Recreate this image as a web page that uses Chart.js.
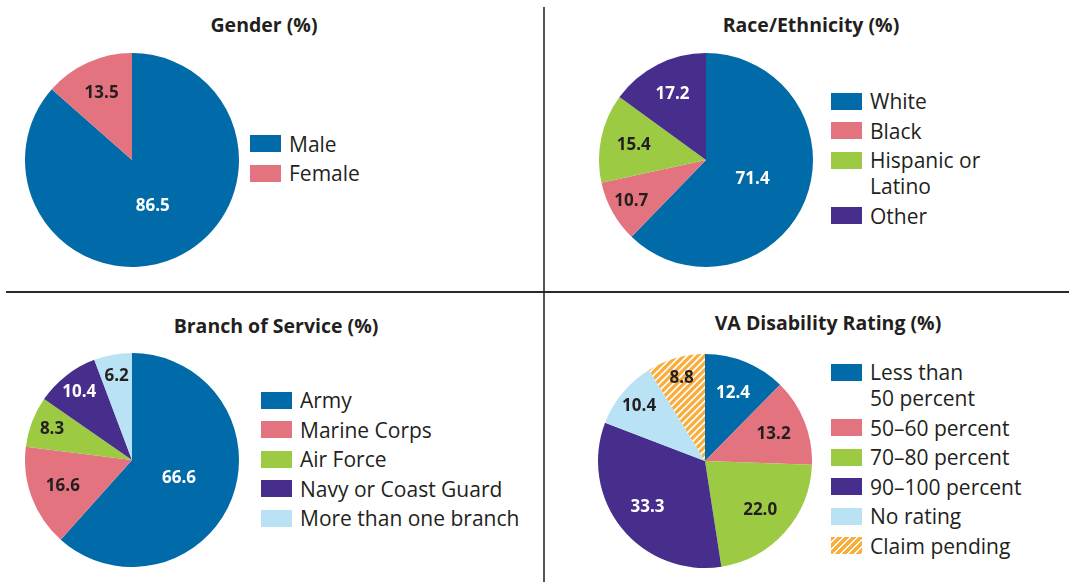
<!DOCTYPE html>
<html>
<head>
<meta charset="utf-8">
<script src="https://cdn.jsdelivr.net/npm/chart.js@4"></script>
<style>
  body { margin: 0; background: #fff; font-family: "Open Sans", sans-serif; color: #231f20; }
  #wrap { position: relative; width: 1069px; height: 582px; overflow: hidden; }
  .title { position: absolute; font-weight: bold; font-size: 19.5px; transform: translateX(-50%); white-space: nowrap; }
  canvas { position: absolute; }
  .legend { position: absolute; font-size: 21px; }
  .row { display: flex; align-items: flex-start; line-height: 26px; margin-bottom: 3.5px; white-space: pre-line; }
  .sw { width: 31px; height: 17px; margin-top: 4.5px; margin-right: 8px; flex: none; }
  .vline { position: absolute; left: 543px; top: 7px; width: 2px; height: 580px; background: #555; }
  .hline { position: absolute; left: 6px; top: 291px; width: 1063px; height: 2px; background: #2a2a2a; }
</style>
</head>
<body>
<div id="wrap">
  <div class="vline"></div>
  <div class="hline"></div>
</div>
<script>
// ----- data -----
const genderLabels = ["Male", "Female"];
const genderValues = [86.5, 13.5];

const raceLabels = ["White", "Black", "Hispanic or\nLatino", "Other"];
const raceValues = [71.4, 10.7, 15.4, 17.2];

const branchLabels = ["Army", "Marine Corps", "Air Force", "Navy or Coast Guard", "More than one branch"];
const branchValues = [66.6, 16.6, 8.3, 10.4, 6.2];

const ratingLabels = ["Less than\n50 percent", "50\u201360 percent", "70\u201380 percent", "90\u2013100 percent", "No rating", "Claim pending"];
const ratingValues = [12.4, 13.2, 22.0, 33.3, 10.4, 8.8];

// colors
const BLUE = "#006ba8", PINK = "#e3737f", GREEN = "#9dca43", PURPLE = "#472d8c", LIGHT = "#b9e3f5", ORANGE = "#f9ad3c";
const DARK = "#231f20";

// striped fill for "Claim pending"
function makeHatch() {
  const s = 7;
  const c = document.createElement("canvas");
  c.width = s; c.height = s;
  const g = c.getContext("2d");
  g.fillStyle = ORANGE;
  g.fillRect(0, 0, s, s);
  g.strokeStyle = "#fff";
  g.lineWidth = 1.6;
  g.beginPath();
  g.moveTo(0, s); g.lineTo(s, 0);
  g.moveTo(-1, 1); g.lineTo(1, -1);
  g.moveTo(s - 1, s + 1); g.lineTo(s + 1, s - 1);
  g.stroke();
  return g.createPattern(c, "repeat");
}
const hatch = makeHatch();

// labels drawn inside slices
const sliceLabels = {
  id: "sliceLabels",
  afterDatasetsDraw(chart) {
    const ctx = chart.ctx;
    const meta = chart.getDatasetMeta(0);
    const textColors = chart.options.plugins.sliceLabels.colors;
    const vals = chart.data.datasets[0].data;
    ctx.save();
    ctx.font = "bold 17px 'Open Sans', sans-serif";
    ctx.textAlign = "center";
    ctx.textBaseline = "middle";
    meta.data.forEach((arc, i) => {
      const p = arc.getProps(["x", "y", "startAngle", "endAngle", "outerRadius"], true);
      const share = (p.endAngle - p.startAngle) / (2 * Math.PI);
      const frac = share > 0.4 ? 0.47 : (share < 0.12 ? 0.8 : 0.69);
      const mid = (p.startAngle + p.endAngle) / 2;
      const r = p.outerRadius * frac;
      ctx.fillStyle = textColors[i];
      ctx.fillText(vals[i].toFixed(1), p.x + Math.cos(mid) * r, p.y + Math.sin(mid) * r);
    });
    ctx.restore();
  }
};

const wrap = document.getElementById("wrap");

function addPanel(cfg) {
  const t = document.createElement("div");
  t.className = "title";
  t.textContent = cfg.title;
  t.style.left = cfg.titleX + "px";
  t.style.top = cfg.titleY + "px";
  wrap.appendChild(t);

  const cv = document.createElement("canvas");
  cv.width = 214; cv.height = 214;
  cv.style.left = (cfg.cx - 107) + "px";
  cv.style.top = (cfg.cy - 107) + "px";
  wrap.appendChild(cv);

  new Chart(cv, {
    type: "pie",
    data: {
      labels: cfg.labels,
      datasets: [{
        data: cfg.values,
        backgroundColor: cfg.colors,
        borderWidth: 0
      }]
    },
    options: {
      responsive: false,
      animation: false,
      layout: { padding: 0 },
      plugins: {
        legend: { display: false },
        tooltip: { enabled: false },
        sliceLabels: { colors: cfg.textColors }
      }
    },
    plugins: [sliceLabels]
  });

  const lg = document.createElement("div");
  lg.className = "legend";
  lg.style.left = cfg.legendX + "px";
  lg.style.top = cfg.legendY + "px";
  cfg.labels.forEach((lab, i) => {
    const row = document.createElement("div");
    row.className = "row";
    const sw = document.createElement("div");
    sw.className = "sw";
    sw.style.background = cfg.colors[i] === hatch
      ? "repeating-linear-gradient(135deg, " + ORANGE + " 0 3.4px, #fff 3.4px 4.9px)"
      : cfg.colors[i];
    const tx = document.createElement("span");
    tx.textContent = lab;
    row.appendChild(sw);
    row.appendChild(tx);
    lg.appendChild(row);
  });
  wrap.appendChild(lg);
}

addPanel({
  title: "Gender (%)", titleX: 264, titleY: 11,
  cx: 132, cy: 160,
  labels: genderLabels, values: genderValues,
  colors: [BLUE, PINK], textColors: ["#fff", DARK],
  legendX: 250, legendY: 130.5
});

addPanel({
  title: "Race/Ethnicity (%)", titleX: 811, titleY: 11,
  cx: 706, cy: 160,
  labels: raceLabels, values: raceValues,
  colors: [BLUE, PINK, GREEN, PURPLE], textColors: ["#fff", DARK, DARK, "#fff"],
  legendX: 831, legendY: 88
});

addPanel({
  title: "Branch of Service (%)", titleX: 276, titleY: 312,
  cx: 132, cy: 460,
  labels: branchLabels, values: branchValues,
  colors: [BLUE, PINK, GREEN, PURPLE, LIGHT], textColors: ["#fff", DARK, DARK, "#fff", DARK],
  legendX: 261, legendY: 387
});

addPanel({
  title: "VA Disability Rating (%)", titleX: 828, titleY: 309,
  cx: 705, cy: 461,
  labels: ratingLabels, values: ratingValues,
  colors: [BLUE, PINK, GREEN, PURPLE, LIGHT, hatch], textColors: ["#fff", DARK, DARK, "#fff", DARK, DARK],
  legendX: 831, legendY: 359
});
</script>
</body>
</html>
